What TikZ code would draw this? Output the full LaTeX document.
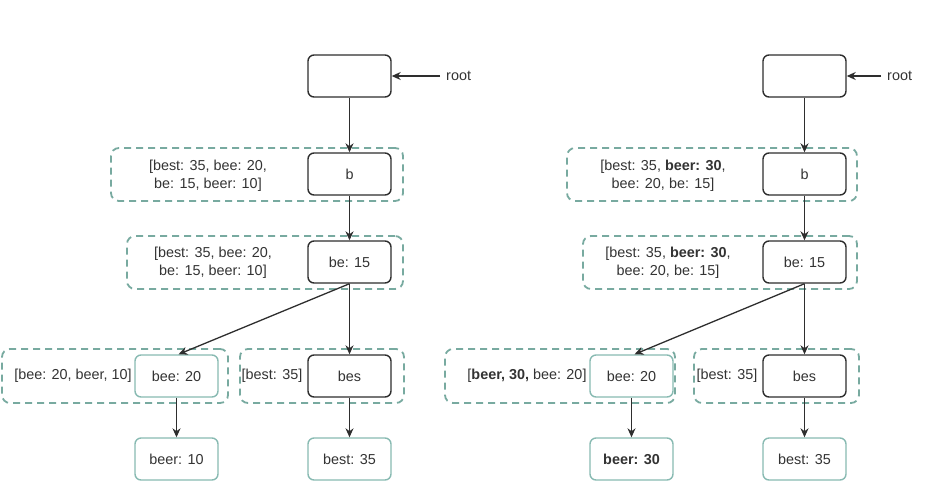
\documentclass[tikz,border=0pt]{standalone}
\usepackage{fontspec}
\setmainfont{Liberation Sans}
\usetikzlibrary{arrows.meta}
\definecolor{txt}{HTML}{333333}
\definecolor{dashc}{HTML}{78AAA0}
\definecolor{tealb}{HTML}{88BAB2}
\definecolor{darkb}{HTML}{2E2E2E}
\begin{document}
\begin{tikzpicture}[x=1pt,y=-1pt,
  tnode/.style={draw=darkb, line width=1.4pt, rounded corners=6pt, minimum width=83pt, minimum height=42pt, fill=white, text=txt, font=\fontsize{14.4}{18}\selectfont, inner sep=0pt},
  leaf/.style={tnode, draw=tealb},
  cont/.style={draw=dashc, line width=1.8pt, dash pattern=on 7pt off 5pt, rounded corners=8pt, inner sep=0pt, minimum height=53pt},
  lab/.style={text=txt, font=\fontsize{14.4}{18}\selectfont, align=center, inner sep=0pt},
  rtxt/.style={lab, inner sep=6pt},
  arr/.style={-{Stealth[length=9pt,width=8pt]}, line width=1.3pt, draw=darkb}
]
\useasboundingbox (0,0) rectangle (928,488);
% ---------- left tree ----------
\node[cont, minimum width=292pt] (Lcb) at (257,174.5) {};
\node[cont, minimum width=276pt] (Lcbe) at (265,262.5) {};
\node[cont, minimum width=226pt, minimum height=54pt] (Lcbee) at (115,376) {};
\node[cont, minimum width=164pt, minimum height=54pt] (Lcbes) at (322,376) {};
\node[tnode] (Lroot) at (349.5,76) {};
\node[tnode] (Lb) at (349.5,174) {b};
\node[tnode] (Lbe) at (349.5,262) {be: 15};
\node[leaf] (Lbee) at (176.5,376) {bee: 20};
\node[tnode] (Lbes) at (349.5,376) {bes};
\node[leaf] (Lbeer) at (176.5,459) {beer: 10};
\node[leaf] (Lbest) at (349.5,459) {best: 35};
\node[rtxt, anchor=west] (Lrt) at (440,76) {root};
\node[lab] (Lt1) at (208,176) {[best: 35, bee: 20,\\ be: 15, beer: 10]};
\node[lab] (Lt2) at (213,263) {[best: 35, bee: 20,\\ be: 15, beer: 10]};
\node[lab] (Lt3) at (73,376) {[bee: 20, beer, 10]};
\node[lab] (Lt4) at (272,376) {[best: 35]};
\draw[arr] (Lrt) -- (Lroot.east);
\draw[arr] (Lroot) -- (Lb);
\draw[arr] (Lb) -- (Lbe);
\draw[arr] (Lbe.south) -- ([xshift=2pt]Lbee.north);
\draw[arr] (Lbe) -- (Lbes);
\draw[arr] (Lbee) -- (Lbeer);
\draw[arr] (Lbes) -- (Lbest);
% ---------- right tree ----------
\node[cont, minimum width=290pt] (Rcb) at (712,174.5) {};
\node[cont, minimum width=274pt] (Rcbe) at (720,262.5) {};
\node[cont, minimum width=230pt, minimum height=54pt] (Rcbee) at (560,376) {};
\node[cont, minimum width=165pt, minimum height=54pt] (Rcbes) at (776.5,376) {};
\node[tnode] (Rroot) at (804.5,76) {};
\node[tnode] (Rb) at (804.5,174) {b};
\node[tnode] (Rbe) at (804.5,262) {be: 15};
\node[leaf] (Rbee) at (631.5,376) {bee: 20};
\node[tnode] (Rbes) at (804.5,376) {bes};
\node[leaf] (Rbeer) at (631.5,459) {\textbf{beer: 30}};
\node[leaf] (Rbest) at (804.5,459) {best: 35};
\node[rtxt, anchor=west] (Rrt) at (881,76) {root};
\node[lab] (Rt1) at (663,176) {[best: 35, \textbf{beer: 30},\\ bee: 20, be: 15]};
\node[lab] (Rt2) at (668,263) {[best: 35, \textbf{beer: 30},\\ bee: 20, be: 15]};
\node[lab] (Rt3) at (527,376) {[\textbf{beer, 30,} bee: 20]};
\node[lab] (Rt4) at (727,376) {[best: 35]};
\draw[arr] (Rrt) -- (Rroot.east);
\draw[arr] (Rroot) -- (Rb);
\draw[arr] (Rb) -- (Rbe);
\draw[arr] (Rbe.south) -- ([xshift=3pt]Rbee.north);
\draw[arr] (Rbe) -- (Rbes);
\draw[arr] (Rbee) -- (Rbeer);
\draw[arr] (Rbes) -- (Rbest);
\end{tikzpicture}
\end{document}
